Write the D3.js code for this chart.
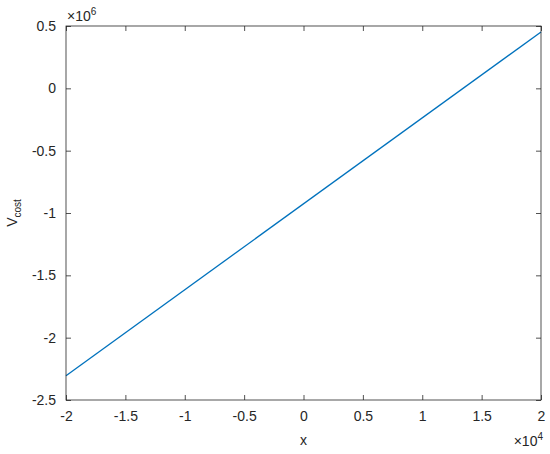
<!DOCTYPE html>
<html>
<head>
<meta charset="utf-8">
<script src="https://cdn.jsdelivr.net/npm/d3@7"></script>
<style>
  body { margin: 0; background: #fff; }
  text { font-family: "Liberation Sans", Arial, sans-serif; fill: #262626; }
</style>
</head>
<body>
<svg id="chart" width="550" height="454"></svg>
<script>
// data (x in units, V_cost in units)
var xValues = [-20000, 20000];
var costValues = [-2305000, 452000];
var xTicks = [-2, -1.5, -1, -0.5, 0, 0.5, 1, 1.5, 2];
var yTicks = [-2.5, -2, -1.5, -1, -0.5, 0, 0.5];

// axes box (note: "top" is reserved on window, so use boxTop)
var boxLeft = 66, boxRight = 541, boxTop = 26, boxBottom = 400;
var fontSize = 14;

var svg = d3.select("#chart");

var x = d3.scaleLinear([-2e4, 2e4], [boxLeft, boxRight]);
var y = d3.scaleLinear([-2.5e6, 0.5e6], [boxBottom, boxTop]);

// line
var pts = xValues.map(function (d, i) { return [d, costValues[i]]; });
svg.append("path")
  .datum(pts)
  .attr("fill", "none")
  .attr("stroke", "#0072BD")
  .attr("stroke-width", 1.3)
  .attr("d", d3.line().x(function (d) { return x(d[0]); }).y(function (d) { return y(d[1]); }));

// x axis (ticks inward)
var xAxis = d3.axisBottom(x)
  .tickValues(xTicks.map(function (t) { return t * 1e4; }))
  .tickFormat(function (d) { return String(d / 1e4); })
  .tickSizeInner(-5).tickSizeOuter(0).tickPadding(11);
var gx = svg.append("g").attr("transform", "translate(0," + boxBottom + ")").call(xAxis);

// y axis
var yAxis = d3.axisLeft(y)
  .tickValues(yTicks.map(function (t) { return t * 1e6; }))
  .tickFormat(function (d) { return String(d / 1e6); })
  .tickSizeInner(-5).tickSizeOuter(0).tickPadding(10);
var gy = svg.append("g").attr("transform", "translate(" + boxLeft + ",0)").call(yAxis);

// top and right ticks
var gx2 = svg.append("g").attr("transform", "translate(0," + boxTop + ")")
  .call(d3.axisTop(x).tickValues(xTicks.map(function (t) { return t * 1e4; })).tickFormat("").tickSizeInner(-5).tickSizeOuter(0));
var gy2 = svg.append("g").attr("transform", "translate(" + boxRight + ",0)")
  .call(d3.axisRight(y).tickValues(yTicks.map(function (t) { return t * 1e6; })).tickFormat("").tickSizeInner(-5).tickSizeOuter(0));

[gx, gy, gx2, gy2].forEach(function (g) {
  g.select(".domain").remove();
  g.selectAll("line").attr("stroke", "#262626").attr("stroke-width", 0.8);
  g.selectAll("text").style("font-size", fontSize + "px")
    .style("font-family", "'Liberation Sans', Arial, sans-serif").attr("fill", "#262626");
});

// box
svg.append("rect")
  .attr("x", boxLeft).attr("y", boxTop)
  .attr("width", boxRight - boxLeft).attr("height", boxBottom - boxTop)
  .attr("fill", "none").attr("stroke", "#262626").attr("stroke-width", 0.8);

// exponent labels
var e6 = svg.append("text").attr("x", boxLeft + 1).attr("y", boxTop - 5).style("font-size", fontSize + "px");
e6.append("tspan").text("\u00d710");
e6.append("tspan").attr("dy", -6).style("font-size", "10px").text("6");

var e4 = svg.append("text").attr("x", boxRight + 2).attr("y", 446).attr("text-anchor", "end").style("font-size", fontSize + "px");
e4.append("tspan").text("\u00d710");
e4.append("tspan").attr("dy", -6).style("font-size", "10px").text("4");

// axis labels
svg.append("text")
  .attr("x", (boxLeft + boxRight) / 2).attr("y", 445)
  .attr("text-anchor", "middle").style("font-size", fontSize + "px").text("x");

var yl = svg.append("text")
  .attr("transform", "translate(17," + ((boxTop + boxBottom) / 2) + ") rotate(-90)")
  .attr("text-anchor", "middle").style("font-size", fontSize + "px");
yl.append("tspan").text("V");
yl.append("tspan").attr("dy", 4).style("font-size", "10px").text("cost");
</script>
</body>
</html>
